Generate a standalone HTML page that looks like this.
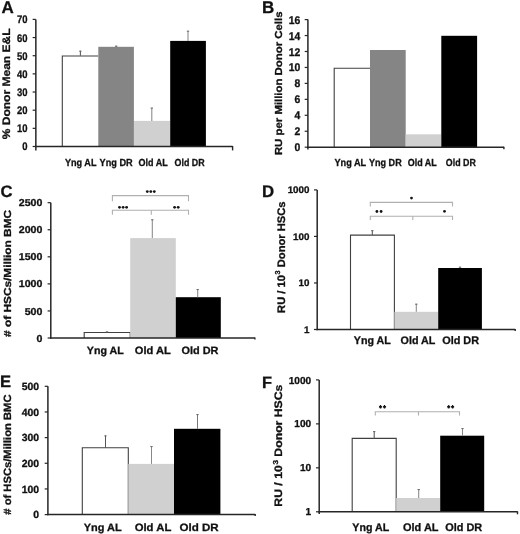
<!DOCTYPE html>
<html><head><meta charset="utf-8"><style>
html,body{margin:0;padding:0;background:#fff;}
svg{filter:blur(0.3px);display:block;font-family:"Liberation Sans", sans-serif;text-rendering:geometricPrecision;}
text{font-weight:bold;fill:#111;stroke:#111;stroke-width:0.3px;}
</style></head><body>
<svg width="520" height="534" viewBox="0 0 520 534">
<rect width="520" height="534" fill="#fff"/>
<text x="1.50" y="13.00" font-size="17">A</text>
<polyline points="62.30,146.50 62.30,56.00 98.30,56.00" fill="#fff" stroke="#404040" stroke-width="1.1"/>
<rect x="98.30" y="46.80" width="35.60" height="99.70" fill="#858585"/>
<rect x="134.00" y="120.90" width="36.20" height="25.60" fill="#d0d0d0"/>
<rect x="170.20" y="40.90" width="35.70" height="105.60" fill="#000000"/>
<line x1="80.40" y1="50.80" x2="80.40" y2="55.80" stroke="#555" stroke-width="1.05"/>
<line x1="79.20" y1="51.20" x2="81.60" y2="51.20" stroke="#6a6a6a" stroke-width="1.0"/>
<line x1="116.20" y1="45.80" x2="116.20" y2="46.80" stroke="#555" stroke-width="1.05"/>
<line x1="115.00" y1="46.20" x2="117.40" y2="46.20" stroke="#6a6a6a" stroke-width="1.0"/>
<line x1="151.80" y1="107.70" x2="151.80" y2="120.90" stroke="#888" stroke-width="1.05"/>
<line x1="150.60" y1="108.10" x2="153.00" y2="108.10" stroke="#6a6a6a" stroke-width="1.0"/>
<line x1="188.00" y1="30.80" x2="188.00" y2="40.90" stroke="#888" stroke-width="1.05"/>
<line x1="186.80" y1="31.20" x2="189.20" y2="31.20" stroke="#6a6a6a" stroke-width="1.0"/>
<line x1="35.85" y1="19.40" x2="35.85" y2="150.50" stroke="#262626" stroke-width="1.5"/>
<line x1="35.10" y1="146.50" x2="232.60" y2="146.50" stroke="#262626" stroke-width="1.5"/>
<line x1="232.60" y1="146.00" x2="232.60" y2="150.40" stroke="#262626" stroke-width="1.4"/>
<line x1="32.65" y1="146.50" x2="35.85" y2="146.50" stroke="#262626" stroke-width="1.2"/>
<line x1="32.65" y1="128.34" x2="35.85" y2="128.34" stroke="#262626" stroke-width="1.2"/>
<line x1="32.65" y1="110.19" x2="35.85" y2="110.19" stroke="#262626" stroke-width="1.2"/>
<line x1="32.65" y1="92.03" x2="35.85" y2="92.03" stroke="#262626" stroke-width="1.2"/>
<line x1="32.65" y1="73.87" x2="35.85" y2="73.87" stroke="#262626" stroke-width="1.2"/>
<line x1="32.65" y1="55.71" x2="35.85" y2="55.71" stroke="#262626" stroke-width="1.2"/>
<line x1="32.65" y1="37.56" x2="35.85" y2="37.56" stroke="#262626" stroke-width="1.2"/>
<line x1="32.65" y1="19.40" x2="35.85" y2="19.40" stroke="#262626" stroke-width="1.2"/>
<text transform="translate(27.60,150.44) scale(0.86,1)" font-size="11" text-anchor="end">0</text>
<text transform="translate(27.60,132.28) scale(0.86,1)" font-size="11" text-anchor="end">10</text>
<text transform="translate(27.60,114.12) scale(0.86,1)" font-size="11" text-anchor="end">20</text>
<text transform="translate(27.60,95.97) scale(0.86,1)" font-size="11" text-anchor="end">30</text>
<text transform="translate(27.60,77.81) scale(0.86,1)" font-size="11" text-anchor="end">40</text>
<text transform="translate(27.60,59.65) scale(0.86,1)" font-size="11" text-anchor="end">50</text>
<text transform="translate(27.60,41.50) scale(0.86,1)" font-size="11" text-anchor="end">60</text>
<text transform="translate(27.60,23.34) scale(0.86,1)" font-size="11" text-anchor="end">70</text>
<text transform="translate(10.30,139.30) rotate(-90)" font-size="10.9" textLength="110.90" lengthAdjust="spacingAndGlyphs">% Donor Mean E&amp;L</text>
<text x="65.00" y="165.80" font-size="10.3" textLength="31.50" lengthAdjust="spacingAndGlyphs">Yng AL</text>
<text x="99.60" y="165.80" font-size="10.3" textLength="33.10" lengthAdjust="spacingAndGlyphs">Yng DR</text>
<text x="138.50" y="165.80" font-size="10.3" textLength="29.20" lengthAdjust="spacingAndGlyphs">Old AL</text>
<text x="174.60" y="165.80" font-size="10.3" textLength="30.00" lengthAdjust="spacingAndGlyphs">Old DR</text>
<text x="261.90" y="12.60" font-size="17">B</text>
<polyline points="334.20,147.20 334.20,68.30 370.00,68.30" fill="#fff" stroke="#404040" stroke-width="1.1"/>
<rect x="370.00" y="50.00" width="35.70" height="97.20" fill="#858585"/>
<rect x="405.70" y="134.30" width="35.60" height="12.90" fill="#d0d0d0"/>
<rect x="441.30" y="35.80" width="35.80" height="111.40" fill="#000000"/>
<line x1="307.90" y1="19.60" x2="307.90" y2="149.50" stroke="#262626" stroke-width="1.5"/>
<line x1="307.15" y1="147.20" x2="503.90" y2="147.20" stroke="#262626" stroke-width="1.5"/>
<line x1="503.90" y1="146.70" x2="503.90" y2="149.20" stroke="#262626" stroke-width="1.4"/>
<line x1="304.70" y1="147.20" x2="307.90" y2="147.20" stroke="#262626" stroke-width="1.2"/>
<line x1="304.70" y1="131.25" x2="307.90" y2="131.25" stroke="#262626" stroke-width="1.2"/>
<line x1="304.70" y1="115.30" x2="307.90" y2="115.30" stroke="#262626" stroke-width="1.2"/>
<line x1="304.70" y1="99.35" x2="307.90" y2="99.35" stroke="#262626" stroke-width="1.2"/>
<line x1="304.70" y1="83.40" x2="307.90" y2="83.40" stroke="#262626" stroke-width="1.2"/>
<line x1="304.70" y1="67.45" x2="307.90" y2="67.45" stroke="#262626" stroke-width="1.2"/>
<line x1="304.70" y1="51.50" x2="307.90" y2="51.50" stroke="#262626" stroke-width="1.2"/>
<line x1="304.70" y1="35.55" x2="307.90" y2="35.55" stroke="#262626" stroke-width="1.2"/>
<line x1="304.70" y1="19.60" x2="307.90" y2="19.60" stroke="#262626" stroke-width="1.2"/>
<text transform="translate(300.30,151.21) scale(0.93,1)" font-size="11.2" text-anchor="end">0</text>
<text transform="translate(300.30,135.26) scale(0.93,1)" font-size="11.2" text-anchor="end">2</text>
<text transform="translate(300.30,119.31) scale(0.93,1)" font-size="11.2" text-anchor="end">4</text>
<text transform="translate(300.30,103.36) scale(0.93,1)" font-size="11.2" text-anchor="end">6</text>
<text transform="translate(300.30,87.41) scale(0.93,1)" font-size="11.2" text-anchor="end">8</text>
<text transform="translate(300.30,71.46) scale(0.93,1)" font-size="11.2" text-anchor="end">10</text>
<text transform="translate(300.30,55.51) scale(0.93,1)" font-size="11.2" text-anchor="end">12</text>
<text transform="translate(300.30,39.56) scale(0.93,1)" font-size="11.2" text-anchor="end">14</text>
<text transform="translate(300.30,23.61) scale(0.93,1)" font-size="11.2" text-anchor="end">16</text>
<text transform="translate(282.00,155.10) rotate(-90)" font-size="10.2" textLength="143.60" lengthAdjust="spacingAndGlyphs">RU per Million Donor Cells</text>
<text x="334.40" y="165.80" font-size="10.3" textLength="31.80" lengthAdjust="spacingAndGlyphs">Yng AL</text>
<text x="369.00" y="165.80" font-size="10.3" textLength="32.70" lengthAdjust="spacingAndGlyphs">Yng DR</text>
<text x="407.70" y="165.80" font-size="10.3" textLength="29.00" lengthAdjust="spacingAndGlyphs">Old AL</text>
<text x="445.80" y="165.80" font-size="10.3" textLength="30.00" lengthAdjust="spacingAndGlyphs">Old DR</text>
<text x="0.60" y="196.90" font-size="16.6">C</text>
<polyline points="84.20,338.00 84.20,332.50 130.20,332.50 130.20,338.00" fill="#fff" stroke="#404040" stroke-width="1.1"/>
<rect x="130.20" y="238.10" width="45.60" height="99.90" fill="#d0d0d0"/>
<rect x="175.80" y="297.20" width="45.00" height="40.80" fill="#000000"/>
<line x1="107.00" y1="331.50" x2="107.00" y2="332.50" stroke="#555" stroke-width="1.05"/>
<line x1="105.80" y1="331.90" x2="108.20" y2="331.90" stroke="#6a6a6a" stroke-width="1.0"/>
<line x1="152.30" y1="219.40" x2="152.30" y2="238.10" stroke="#888" stroke-width="1.05"/>
<line x1="151.10" y1="219.80" x2="153.50" y2="219.80" stroke="#6a6a6a" stroke-width="1.0"/>
<line x1="197.70" y1="289.20" x2="197.70" y2="297.20" stroke="#888" stroke-width="1.05"/>
<line x1="196.50" y1="289.60" x2="198.90" y2="289.60" stroke="#6a6a6a" stroke-width="1.0"/>
<line x1="50.80" y1="202.70" x2="50.80" y2="338.75" stroke="#262626" stroke-width="1.5"/>
<line x1="50.05" y1="338.00" x2="254.90" y2="338.00" stroke="#262626" stroke-width="1.5"/>
<line x1="254.90" y1="337.50" x2="254.90" y2="339.50" stroke="#262626" stroke-width="1.4"/>
<line x1="47.60" y1="338.00" x2="50.80" y2="338.00" stroke="#262626" stroke-width="1.2"/>
<line x1="47.60" y1="310.94" x2="50.80" y2="310.94" stroke="#262626" stroke-width="1.2"/>
<line x1="47.60" y1="283.88" x2="50.80" y2="283.88" stroke="#262626" stroke-width="1.2"/>
<line x1="47.60" y1="256.82" x2="50.80" y2="256.82" stroke="#262626" stroke-width="1.2"/>
<line x1="47.60" y1="229.76" x2="50.80" y2="229.76" stroke="#262626" stroke-width="1.2"/>
<line x1="47.60" y1="202.70" x2="50.80" y2="202.70" stroke="#262626" stroke-width="1.2"/>
<text transform="translate(42.40,341.58) scale(1.06,1)" font-size="10" text-anchor="end">0</text>
<text transform="translate(42.40,314.52) scale(1.06,1)" font-size="10" text-anchor="end">500</text>
<text transform="translate(42.40,287.46) scale(1.06,1)" font-size="10" text-anchor="end">1000</text>
<text transform="translate(42.40,260.40) scale(1.06,1)" font-size="10" text-anchor="end">1500</text>
<text transform="translate(42.40,233.34) scale(1.06,1)" font-size="10" text-anchor="end">2000</text>
<text transform="translate(42.40,206.28) scale(1.06,1)" font-size="10" text-anchor="end">2500</text>
<text transform="translate(10.90,336.90) rotate(-90)" font-size="10.2" textLength="127.00" lengthAdjust="spacingAndGlyphs"># of HSCs/Million BMC</text>
<text x="86.80" y="354.40" font-size="10.6" textLength="36.90" lengthAdjust="spacingAndGlyphs">Yng AL</text>
<text x="134.80" y="354.40" font-size="10.6" textLength="36.00" lengthAdjust="spacingAndGlyphs">Old AL</text>
<text x="181.50" y="354.40" font-size="10.6" textLength="37.00" lengthAdjust="spacingAndGlyphs">Old DR</text>
<polyline points="112.40,201.30 112.40,195.60 188.50,195.60 188.50,201.30" fill="none" stroke="#b0b0b0" stroke-width="1.1"/>
<polyline points="112.40,214.80 112.40,210.30 188.50,210.30 188.50,214.80" fill="none" stroke="#b0b0b0" stroke-width="1.1"/>
<line x1="151.30" y1="210.30" x2="151.30" y2="214.80" stroke="#b0b0b0" stroke-width="1.1"/>
<circle cx="147.30" cy="191.60" r="1.4" fill="#151515"/>
<circle cx="150.80" cy="191.60" r="1.4" fill="#151515"/>
<circle cx="154.30" cy="191.60" r="1.4" fill="#151515"/>
<circle cx="119.50" cy="207.30" r="1.4" fill="#151515"/>
<circle cx="123.10" cy="207.30" r="1.4" fill="#151515"/>
<circle cx="126.60" cy="207.30" r="1.4" fill="#151515"/>
<circle cx="174.60" cy="207.30" r="1.4" fill="#151515"/>
<circle cx="178.20" cy="207.30" r="1.4" fill="#151515"/>
<text x="262.10" y="197.30" font-size="16.8">D</text>
<polyline points="350.50,329.50 350.50,235.10 394.40,235.10 394.40,329.50" fill="#fff" stroke="#404040" stroke-width="1.1"/>
<rect x="394.40" y="311.80" width="43.80" height="17.70" fill="#d0d0d0"/>
<rect x="438.20" y="268.00" width="43.70" height="61.50" fill="#000000"/>
<line x1="372.30" y1="230.30" x2="372.30" y2="235.10" stroke="#555" stroke-width="1.05"/>
<line x1="371.10" y1="230.70" x2="373.50" y2="230.70" stroke="#6a6a6a" stroke-width="1.0"/>
<line x1="416.30" y1="303.80" x2="416.30" y2="311.80" stroke="#888" stroke-width="1.05"/>
<line x1="415.10" y1="304.20" x2="417.50" y2="304.20" stroke="#6a6a6a" stroke-width="1.0"/>
<line x1="460.00" y1="266.80" x2="460.00" y2="268.00" stroke="#888" stroke-width="1.05"/>
<line x1="458.80" y1="267.20" x2="461.20" y2="267.20" stroke="#6a6a6a" stroke-width="1.0"/>
<line x1="317.20" y1="189.90" x2="317.20" y2="330.25" stroke="#262626" stroke-width="1.5"/>
<line x1="316.45" y1="329.50" x2="515.20" y2="329.50" stroke="#262626" stroke-width="1.5"/>
<line x1="515.20" y1="329.00" x2="515.20" y2="331.10" stroke="#262626" stroke-width="1.4"/>
<line x1="314.00" y1="329.50" x2="317.20" y2="329.50" stroke="#262626" stroke-width="1.2"/>
<line x1="314.00" y1="282.97" x2="317.20" y2="282.97" stroke="#262626" stroke-width="1.2"/>
<line x1="314.00" y1="236.43" x2="317.20" y2="236.43" stroke="#262626" stroke-width="1.2"/>
<line x1="314.00" y1="189.90" x2="317.20" y2="189.90" stroke="#262626" stroke-width="1.2"/>
<text transform="translate(309.40,332.90) scale(1.03,1)" font-size="9.5" text-anchor="end">1</text>
<text transform="translate(309.40,286.37) scale(1.03,1)" font-size="9.5" text-anchor="end">10</text>
<text transform="translate(309.40,239.83) scale(1.03,1)" font-size="9.5" text-anchor="end">100</text>
<text transform="translate(309.40,193.30) scale(1.03,1)" font-size="9.5" text-anchor="end">1000</text>
<text transform="translate(285.00,312.90) rotate(-90)" font-size="10.9" textLength="111.40" lengthAdjust="spacingAndGlyphs">RU / 10<tspan dx="0.6" dy="-4.6" font-size="7.2">3</tspan><tspan dy="4.6"> Donor HSCs</tspan></text>
<text x="353.80" y="343.80" font-size="10.9" textLength="37.00" lengthAdjust="spacingAndGlyphs">Yng AL</text>
<text x="400.60" y="343.80" font-size="10.9" textLength="34.80" lengthAdjust="spacingAndGlyphs">Old AL</text>
<text x="442.20" y="343.80" font-size="10.9" textLength="36.90" lengthAdjust="spacingAndGlyphs">Old DR</text>
<polyline points="370.30,206.60 370.30,202.40 452.50,202.40 452.50,206.60" fill="none" stroke="#b0b0b0" stroke-width="1.1"/>
<polyline points="370.30,220.00 370.30,216.20 452.50,216.20 452.50,220.00" fill="none" stroke="#b0b0b0" stroke-width="1.1"/>
<line x1="412.80" y1="216.20" x2="412.80" y2="220.00" stroke="#b0b0b0" stroke-width="1.1"/>
<circle cx="411.50" cy="198.10" r="1.4" fill="#151515"/>
<circle cx="376.90" cy="211.50" r="1.4" fill="#151515"/>
<circle cx="381.10" cy="211.50" r="1.4" fill="#151515"/>
<circle cx="444.50" cy="211.30" r="1.4" fill="#151515"/>
<text x="0.00" y="386.50" font-size="16.6">E</text>
<polyline points="82.30,514.60 82.30,447.80 128.30,447.80 128.30,514.60" fill="#fff" stroke="#404040" stroke-width="1.1"/>
<rect x="128.30" y="463.90" width="45.70" height="50.70" fill="#d0d0d0"/>
<rect x="174.00" y="428.80" width="46.40" height="85.80" fill="#000000"/>
<line x1="105.50" y1="435.50" x2="105.50" y2="447.80" stroke="#555" stroke-width="1.05"/>
<line x1="104.30" y1="435.90" x2="106.70" y2="435.90" stroke="#6a6a6a" stroke-width="1.0"/>
<line x1="151.50" y1="446.20" x2="151.50" y2="463.90" stroke="#888" stroke-width="1.05"/>
<line x1="150.30" y1="446.60" x2="152.70" y2="446.60" stroke="#6a6a6a" stroke-width="1.0"/>
<line x1="197.50" y1="414.20" x2="197.50" y2="428.80" stroke="#777" stroke-width="1.05"/>
<line x1="196.30" y1="414.60" x2="198.70" y2="414.60" stroke="#6a6a6a" stroke-width="1.0"/>
<line x1="47.90" y1="386.30" x2="47.90" y2="515.35" stroke="#262626" stroke-width="1.5"/>
<line x1="47.15" y1="514.60" x2="255.20" y2="514.60" stroke="#262626" stroke-width="1.5"/>
<line x1="255.20" y1="514.10" x2="255.20" y2="515.90" stroke="#262626" stroke-width="1.4"/>
<line x1="44.70" y1="514.60" x2="47.90" y2="514.60" stroke="#262626" stroke-width="1.2"/>
<line x1="44.70" y1="488.94" x2="47.90" y2="488.94" stroke="#262626" stroke-width="1.2"/>
<line x1="44.70" y1="463.28" x2="47.90" y2="463.28" stroke="#262626" stroke-width="1.2"/>
<line x1="44.70" y1="437.62" x2="47.90" y2="437.62" stroke="#262626" stroke-width="1.2"/>
<line x1="44.70" y1="411.96" x2="47.90" y2="411.96" stroke="#262626" stroke-width="1.2"/>
<line x1="44.70" y1="386.30" x2="47.90" y2="386.30" stroke="#262626" stroke-width="1.2"/>
<text transform="translate(39.00,518.32) scale(1.0,1)" font-size="10.4" text-anchor="end">0</text>
<text transform="translate(39.00,492.66) scale(1.0,1)" font-size="10.4" text-anchor="end">100</text>
<text transform="translate(39.00,467.00) scale(1.0,1)" font-size="10.4" text-anchor="end">200</text>
<text transform="translate(39.00,441.34) scale(1.0,1)" font-size="10.4" text-anchor="end">300</text>
<text transform="translate(39.00,415.68) scale(1.0,1)" font-size="10.4" text-anchor="end">400</text>
<text transform="translate(39.00,390.02) scale(1.0,1)" font-size="10.4" text-anchor="end">500</text>
<text transform="translate(11.00,514.70) rotate(-90)" font-size="10.5" textLength="120.20" lengthAdjust="spacingAndGlyphs"># of HSCs/Million BMC</text>
<text x="83.70" y="530.50" font-size="10.6" textLength="37.90" lengthAdjust="spacingAndGlyphs">Yng AL</text>
<text x="134.70" y="530.50" font-size="10.6" textLength="36.60" lengthAdjust="spacingAndGlyphs">Old AL</text>
<text x="179.50" y="530.50" font-size="10.6" textLength="39.20" lengthAdjust="spacingAndGlyphs">Old DR</text>
<text x="262.00" y="388.40" font-size="16.4">F</text>
<polyline points="352.20,511.80 352.20,438.40 396.20,438.40 396.20,511.80" fill="#fff" stroke="#404040" stroke-width="1.1"/>
<rect x="396.20" y="498.00" width="44.00" height="13.80" fill="#d0d0d0"/>
<rect x="440.20" y="435.70" width="44.00" height="76.10" fill="#000000"/>
<line x1="374.20" y1="431.20" x2="374.20" y2="438.40" stroke="#555" stroke-width="1.05"/>
<line x1="373.00" y1="431.60" x2="375.40" y2="431.60" stroke="#6a6a6a" stroke-width="1.0"/>
<line x1="418.70" y1="489.20" x2="418.70" y2="498.00" stroke="#888" stroke-width="1.05"/>
<line x1="417.50" y1="489.60" x2="419.90" y2="489.60" stroke="#6a6a6a" stroke-width="1.0"/>
<line x1="462.50" y1="428.20" x2="462.50" y2="435.70" stroke="#888" stroke-width="1.05"/>
<line x1="461.30" y1="428.60" x2="463.70" y2="428.60" stroke="#6a6a6a" stroke-width="1.0"/>
<line x1="319.20" y1="379.90" x2="319.20" y2="514.10" stroke="#262626" stroke-width="1.5"/>
<line x1="318.45" y1="511.80" x2="517.50" y2="511.80" stroke="#262626" stroke-width="1.5"/>
<line x1="517.50" y1="511.30" x2="517.50" y2="514.30" stroke="#262626" stroke-width="1.4"/>
<line x1="316.00" y1="511.80" x2="319.20" y2="511.80" stroke="#262626" stroke-width="1.2"/>
<line x1="316.00" y1="467.83" x2="319.20" y2="467.83" stroke="#262626" stroke-width="1.2"/>
<line x1="316.00" y1="423.87" x2="319.20" y2="423.87" stroke="#262626" stroke-width="1.2"/>
<line x1="316.00" y1="379.90" x2="319.20" y2="379.90" stroke="#262626" stroke-width="1.2"/>
<text transform="translate(311.20,515.42) scale(1.0,1)" font-size="10.1" text-anchor="end">1</text>
<text transform="translate(311.20,471.45) scale(1.0,1)" font-size="10.1" text-anchor="end">10</text>
<text transform="translate(311.20,427.48) scale(1.0,1)" font-size="10.1" text-anchor="end">100</text>
<text transform="translate(311.20,383.52) scale(1.0,1)" font-size="10.1" text-anchor="end">1000</text>
<text transform="translate(282.30,506.70) rotate(-90)" font-size="10.8" textLength="122.10" lengthAdjust="spacingAndGlyphs">RU / 10<tspan dx="0.6" dy="-4.6" font-size="7.2">3</tspan><tspan dy="4.6"> Donor HSCs</tspan></text>
<text x="352.30" y="531.20" font-size="11" textLength="36.90" lengthAdjust="spacingAndGlyphs">Yng AL</text>
<text x="403.00" y="531.20" font-size="11" textLength="35.50" lengthAdjust="spacingAndGlyphs">Old AL</text>
<text x="445.20" y="531.20" font-size="11" textLength="37.00" lengthAdjust="spacingAndGlyphs">Old DR</text>
<polyline points="375.30,415.50 375.30,411.70 459.50,411.70 459.50,415.50" fill="none" stroke="#b0b0b0" stroke-width="1.1"/>
<line x1="418.50" y1="411.70" x2="418.50" y2="415.50" stroke="#b0b0b0" stroke-width="1.1"/>
<path d="M380.50,405.10V408.60M379.05,406.20L381.95,407.90M379.05,407.90L381.95,406.20" stroke="#151515" stroke-width="1.1" fill="none"/><circle cx="380.50" cy="407.00" r="0.95" fill="#151515"/>
<path d="M384.50,405.10V408.60M383.05,406.20L385.95,407.90M383.05,407.90L385.95,406.20" stroke="#151515" stroke-width="1.1" fill="none"/><circle cx="384.50" cy="407.00" r="0.95" fill="#151515"/>
<path d="M448.70,405.10V408.60M447.25,406.20L450.15,407.90M447.25,407.90L450.15,406.20" stroke="#151515" stroke-width="1.1" fill="none"/><circle cx="448.70" cy="407.00" r="0.95" fill="#151515"/>
<path d="M452.60,405.10V408.60M451.15,406.20L454.05,407.90M451.15,407.90L454.05,406.20" stroke="#151515" stroke-width="1.1" fill="none"/><circle cx="452.60" cy="407.00" r="0.95" fill="#151515"/>
</svg>
</body></html>
